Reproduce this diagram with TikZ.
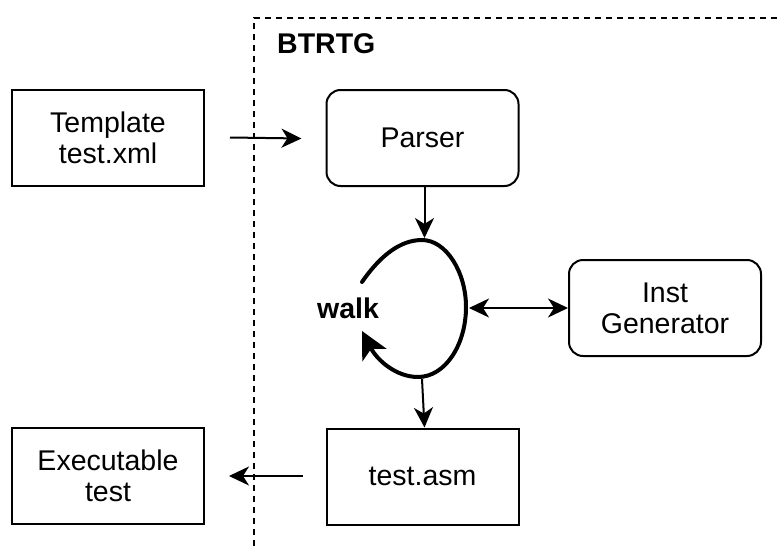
\documentclass[tikz,border=0pt]{standalone}
\usepackage{fontspec}
\setmainfont{Liberation Sans}
\usetikzlibrary{arrows.meta}
\begin{document}
\begin{tikzpicture}[x=1pt,y=-1pt,
  every node/.style={font=\fontsize{28.5}{31}\selectfont, align=center, inner sep=0pt},
  plainbox/.style={draw, line width=2pt, minimum width=192pt, minimum height=96pt},
  roundbox/.style={plainbox, rounded corners=14pt},
  arr/.style={line width=2pt, -{Stealth[length=20pt,width=19pt,inset=6pt]}},
  dblarr/.style={line width=2pt, {Stealth[length=20pt,width=19pt,inset=6pt]}-{Stealth[length=20pt,width=19pt,inset=6pt]}},
  loopline/.style={line width=4pt, line cap=round, -{Stealth[length=27pt,width=27pt,inset=7pt]}},
  frame/.style={line width=2pt, dash pattern=on 6pt off 5pt}
]
\useasboundingbox (0,0) rectangle (779,546);

% group frame (open to the right and bottom)
\draw[frame] (254,546) -- (254,18) -- (779,18);
\node[font=\bfseries\fontsize{28.5}{31}\selectfont, anchor=west] (grouplabel) at (277,44) {BTRTG};

% boxes
\node[plainbox] (tmpl) at (108,137.5) {Template\\test.xml};
\node[roundbox] (parser) at (422.5,138) {Parser};
\node[roundbox] (inst) at (665,308) {Inst\\Generator};
\node[plainbox] (asm) at (422.5,476.5) {test.asm};
\node[plainbox] (exe) at (108,476) {Executable\\test};

% walk loop
\coordinate (lstart) at (362,282);
\coordinate (ltop) at (422,240);
\coordinate (lright) at (466,307);
\coordinate (lbottom) at (418,377);
\coordinate (lend) at (362,331);
\draw[loopline] (lstart) .. controls (380,256) and (400,240) .. (ltop)
  .. controls (446,240) and (466,272) .. (lright)
  .. controls (466,345) and (445,377) .. (lbottom)
  .. controls (396,377) and (377,360) .. (lend);
\node[font=\bfseries\fontsize{28.5}{31}\selectfont] (walk) at (348,308) {walk};

% connectors
\coordinate (toin) at (424.5,238);
\coordinate (rightin) at (469,308);
\coordinate (botout) at (422,379);
\draw[arr] ([xshift=25pt]tmpl.east) -- ([xshift=-24pt,yshift=-0.5pt]parser.west);
\draw[arr] (parser.south -| toin) -- (toin);
\draw[dblarr] (rightin) -- (inst.west);
\draw[arr] (botout) -- ([xshift=2pt]asm.north);
\draw[arr] ([xshift=-23pt,yshift=0.5pt]asm.west) -- ([xshift=24pt]exe.east);
\end{tikzpicture}
\end{document}
